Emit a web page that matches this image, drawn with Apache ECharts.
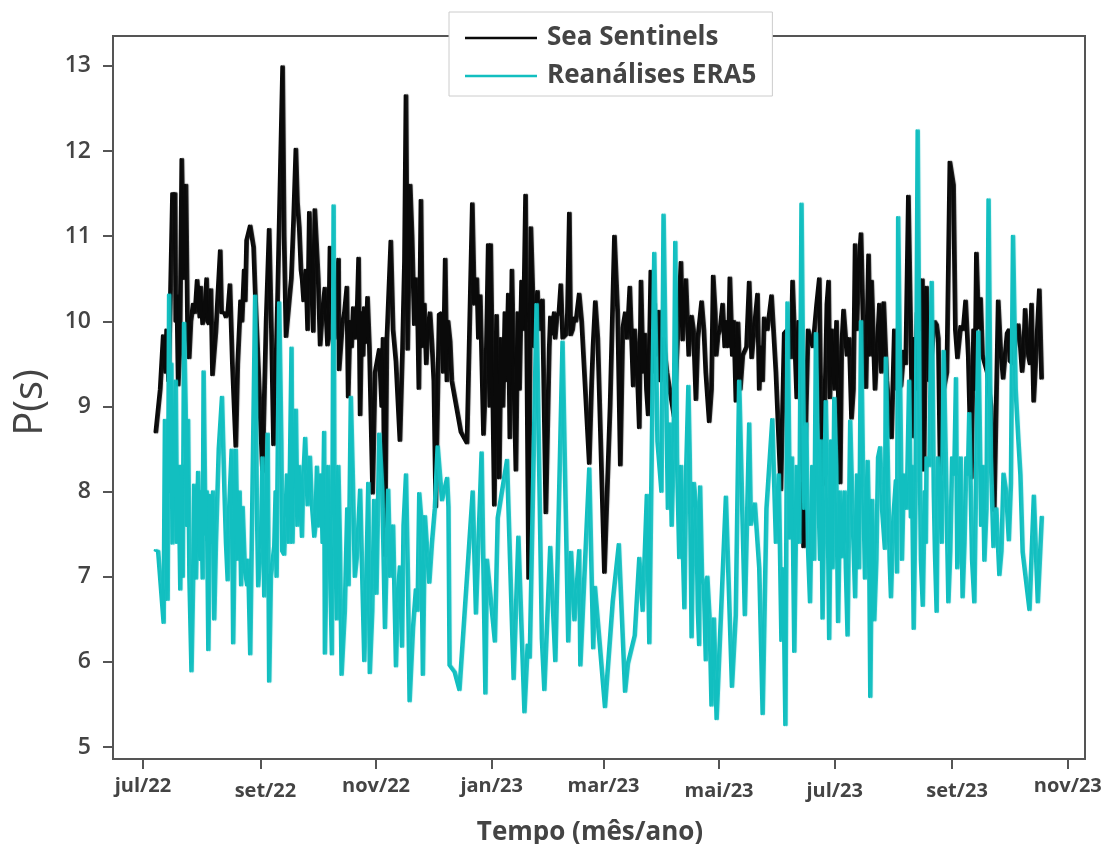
<!DOCTYPE html>
<html><head><meta charset="utf-8">
<script src="https://cdn.jsdelivr.net/npm/echarts@6/dist/echarts.min.js"></script>
<style>html,body{margin:0;padding:0;background:#fff}#c{width:1109px;height:844px}</style>
</head><body><div id="c"></div>
<script>
// x values are days since 2022-07-01
const tickDays=[0,62,123,184,243,304,365,427,488];
const tickLabels=['jul/22','set/22','nov/22','jan/23','mar/23','mai/23','jul/23','set/23','nov/23'];
const yTicks=[5,6,7,8,9,10,11,12,13];
const seaDays=[6.3,8.6,10.2,13,15.1,16.5,18.1,20,22.2,23.9,26,28.1,31,33.1,34.3,35.4,36.2,38,40.3,41,44.2,45.4,48.5,51,52.9,53.5,54.2,56.1,57.9,62.6,66.1,68.4,70.5,73.2,75,76.7,80.2,82,82.9,84.3,87.3,89.4,90.2,93,95.5,96.9,98.2,102.7,103,104.8,107.1,107.8,110.5,113.3,114.1,116.3,118,120.7,124.2,127.2,128.2,130.3,133,135.1,138.3,139.2,140.5,142.7,145.1,146.2,150,152,154,155.8,159,159.9,161.6,167.3,170.5,173.3,174.4,175.7,179.2,181.7,183,184.9,186.1,187.5,192.3,193.1,194.2,196.3,199.3,201.4,203,204.2,207.7,210.3,212.1,213.9,218,220,222.7,224.5,225.2,227,229.7,235,236.3,238.2,243,248.3,251.4,252.7,256.4,258.2,261.4,262.3,266.1,267.5,270,271.9,279.8,283.4,284.3,286,289,291.3,294.3,298.3,300.4,303,305.4,308.5,309.2,312.4,313.5,319.4,320.7,323.8,324.7,327.3,331.2,336.1,337.9,341.4,342.3,343.2,348.1,351.5,356.4,358.1,361.3,362,363,367.4,369.2,371,373.4,375.3,377,378.4,381,382.4,384,385.8,388.1,390.4,394.5,399.5,401,403.4,405.6,408,410.8,411.6,413,418.3,420.2,425.3,427.2,429.3,431,433.6,436.6,439.3,440.5,441.5,448.7,450.8,453.4,455.5,457,461.4,463.4,465,466.8,468.4,469.5,472.5,473.7];
const seaVals=[8.7,9.2,9.83,9.3,11.5,11.5,9.25,11.9,11.6,9.57,10.2,10.48,9.97,10.5,9.97,10.37,9.37,9.88,10.83,10.1,10.08,10.43,8.53,10.24,10.6,10.24,10.95,11.12,10.87,8.23,11.08,8.55,10.22,12.99,9.82,10.24,12.02,11.1,10.6,10.24,11.28,9.88,11.31,9.72,10.39,9.72,10.87,10.73,9.43,9.98,10.4,9.11,10.16,10.74,8.9,10.16,10.28,7.98,9.67,7.25,9.78,10.94,9.53,8.6,12.65,9.67,11.6,9.96,9.21,11.42,9.94,9.74,7.82,10.08,10.73,9.3,9.76,8.7,8.57,11.38,10.2,10.5,8.67,10.9,10.9,7.84,10.07,8.16,10.32,8.63,10.6,8.25,10.47,11.48,6.98,11.1,10.35,10.25,7.75,9.69,10.06,10.43,9.84,11.27,9.84,10.04,10.32,8.33,9.3,10.23,7.05,11,8.31,9.92,10.4,9.24,8.75,10.47,8.9,10.59,9.6,10.12,8.88,10.69,9.78,10.49,10.06,9.08,10.23,8.82,10.53,9.84,10.2,9.7,10.51,9.06,9.98,10.46,9.57,10.32,9.2,10.04,10.3,8.02,9.86,9.57,10.47,9.92,7.35,9.82,10.5,8.08,10.47,9.1,9.9,8.1,10.13,9.6,8.86,10.9,10.55,11.03,9.22,10.78,10.47,9.2,10.2,10.22,8.63,9.24,9.65,11.47,8.64,10.1,10.49,8.25,10.4,9.96,8.2,11.87,11.6,9.57,9.94,10.24,8.16,10.8,9.92,10.27,7.78,10.24,9.33,9.86,9.53,9.96,9.41,10.14,9.59,10.2,9.06,10.37,9.33];
const seaDaysB=[11.5,12,14,16.8,17.4,19,21,23,24.8,27,29.5,30,32,33.7,35,37,39,42.5,43.3,46.7,49.5,51.8,58.8,60.5,64.5,67.3,69.5,71.5,74,77.8,79,81,83.5,85.5,86.4,88.4,92,94.2,97.5,99.5,100.5,101.5,105.8,108.8,109.6,111.7,112.5,115,115.7,117.2,119,122,125.5,126.2,131.5,136.5,137.5,141.5,143.5,144.5,147,148,149,151,153,157,158,160.5,162.5,176.5,177.5,180.5,182.5,188.5,189.5,190.5,191.2,195,197.3,198.2,200.3,205,206,208.5,209,214.5,215.5,216.5,217,219,221,223.5,226.2,228,231,237,239.5,246,250,254,255,259,260.2,263.4,264.4,265.2,268.7,269.4,272.5,274,276,281,287.5,288.5,290,292.3,295.5,296.5,299.5,301.5,302,304,306.5,307.5,310.5,311.3,314.7,316,318,322,325.5,326.5,329,333.5,339.5,344.5,345.5,346.8,349.5,350.5,353,355,357,359.5,360.4,364.5,365.5,366.5,368.2,372.2,374.4,376.2,379.7,383.3,387,389.2,392,396,397.5,402,406.5,407.2,409.2,412.4,414.5,416,417.2,419.2,422,423.7,428.2,432.3,435,437.8,438.5,442.5,445,447,452,456.5,458.5,460,462.5,464.2,467.6,471];
const seaValsB=[9.4,9.9,10.3,10,10.3,9.7,10.5,10,10,10.1,10.05,10.4,10.05,10,10.05,9.6,10.3,10.1,10.05,9.5,9.5,10,10.3,9.4,10,9.9,9.3,10.2,11,10.5,11.2,11.4,10.5,10.6,9.9,10.5,10.5,10.1,9.8,10.1,9.8,10.2,10.1,10,9.7,9.8,10.1,10.1,9.6,9.75,9.7,9.4,9,9.8,9.9,9.7,10.7,11,10.5,10,9.7,10.2,9.5,10.1,9.3,10.1,9.4,10,9.3,9.8,10.3,9.4,9,9.8,9,10.1,9.3,9.6,10.1,9.2,9.9,10.5,9.7,9.9,10.2,10.05,9.85,10.1,9.8,10.1,9.8,10.1,9.9,10,10,9.7,9.8,9,10.1,10.1,9.8,9.9,9.5,9.4,9.85,9.2,9.4,10.2,9.3,9.8,9.4,9.5,9.6,10,9.9,9.8,9.9,9.4,9.2,10.1,9.6,9.9,9.7,10,9.6,10,9.2,9.6,9.7,9.9,9.7,9.3,9.9,9.4,9.9,9.1,10,9.2,9,9.9,9.7,10.2,9.4,9.2,10.2,9.2,10,9.1,9.7,9.8,9.2,9.9,9.8,9.6,9.7,9.4,9.3,9.9,9.2,9.5,9.8,9.2,9.9,9.8,9.3,9.7,10,9.8,9.2,9.4,9.9,9.9,9.6,9.9,9.2,9.6,9.4,9,9.7,9.9,9.5,9.8,9.7,9.6,9.5,9.7];
const eraDays=[6.3,7.5,10.4,11.1,12.5,13.3,15.1,16.8,19.2,21.2,23.3,25.1,26.5,27.5,28.6,31,31.5,34,35,37.1,39.5,41.2,44.2,46.3,47.1,48.5,52.1,53.3,55,56.1,58.7,60.3,61.8,63.5,65.3,66.1,68.8,71.4,74,77.9,79,80.2,83.4,85.1,86.4,87.6,89.9,91.3,92.5,95.1,95.5,97.3,99.2,100.1,101.8,103.5,104.3,109.2,112.4,114.1,116.3,118.4,119.2,124.2,127.2,128.9,133,135.1,136.2,138.3,140.2,143.5,145.3,147.2,148.3,150.6,155,157.3,160,160.7,161.3,164,166.5,173.5,175.2,178.2,180.2,181,185.2,186.7,191.6,195.1,197.6,200.8,202.5,203.6,207.2,210,211.3,214.4,217.1,220.9,223.9,225.4,227.2,229.7,230.3,235,237.1,238,243.3,247.4,250.6,253.9,255.4,259,261.4,263.2,265.4,266.7,269.3,271,273.1,274.2,275.5,280.4,282.5,285.2,287.3,289,290.2,293,293.5,295.5,296.5,298.5,299.5,300.8,302.2,307.1,310.3,312.3,314.1,317.1,319.4,320.3,322.4,324.7,326.5,331.6,336.4,338.5,339.6,341,343.2,347,351.5,354.6,358.1,359.8,361.6,364.3,366.3,368.5,371.3,372.7,375.3,378.4,380.5,381.9,383.3,385.4,388.5,391,391.5,394.2,396.8,397.4,398,401,406.2,408.3,411,413,415.7,418.3,420,422,424.5,426.5,428.5,430,432,434,435.5,438.2,440.3,443.5,445.7,448.3,451.4,453.6,456.4,458.6,461.4,463.7,467.3,469.6,471.7,473.8];
const eraVals=[7.31,7.3,6.46,8.84,6.73,10.31,7.39,9.3,6.85,9.98,8.84,5.89,8.08,6.98,8.23,6.98,9.41,6.14,7.96,6.5,8.5,9.11,6.96,8.49,6.22,8.49,7.82,7.08,7.2,6.09,10.3,6.89,7.41,6.77,8.68,5.77,7.36,10.22,7.26,9.69,8.1,8.96,7.47,8.63,7.84,8.41,7.47,8.29,7.59,8.7,6.1,8.3,6.09,11.36,6.5,7.3,5.85,9.11,7.24,8.02,6.01,8.1,5.87,8.68,6.4,8.02,5.95,7.12,6.18,8.2,5.54,6.85,7.98,5.85,7.71,6.93,8.53,7.9,8.16,7.82,5.96,5.88,5.67,8,6.57,8.46,5.63,7.2,6.24,7.69,8.37,5.8,7.47,5.41,6.2,6.05,10.2,6.27,5.67,7.35,6.01,9.76,6.24,7.29,6.49,7.31,5.96,8.27,6.16,6.88,5.47,6.71,7.38,5.65,5.98,6.31,7.22,6.6,7.96,6.22,10.8,8.59,8,11.25,9.31,10.93,7.22,6.63,9.24,6.29,8.1,6.2,8.06,6.9,6.02,6.51,5.49,6.51,5.33,7.94,5.71,6.55,9.3,6.55,8.8,7.61,7.86,7.1,5.39,8.85,6.25,5.26,10.22,7.45,6.12,11.38,6.7,9.86,6.51,9.06,6.27,9.1,6.47,7.23,6.31,8.83,6.76,10,6.98,8.36,5.59,6.49,8.52,7.33,9.57,6.76,8.13,7.05,11.22,8.2,6.39,12.24,6.66,8.4,10.46,6.59,8.1,9.65,6.7,8.4,9.33,7.4,6.76,8.4,8.92,6.7,9.88,7.19,11.43,7.35,7.02,8.21,7.43,11,8.62,7.29,6.61,7.95,6.7,7.7];
const eraDaysB=[13.9,14.5,16,17.5,18.3,19.8,20.5,22,22.8,24,26,27,29.8,30.3,32.5,33.2,36,36.5,38,42.5,43.3,45,49.5,50.5,51.3,54.5,59.5,62.6,64.4,67,69.5,70,72.5,73,75.5,76.5,78.4,81,82,84,88.5,90.5,93.5,94.3,96.4,98,100.5,102.6,106,107.3,108,110.3,111.3,115,117.4,120.5,121.5,122.7,125.8,130,131.5,134,137,139.3,142,144.4,146.3,149.5,152,153.5,276.5,277.5,278.5,279.5,281.3,283.5,284.3,286.2,288,291.5,292.3,294.5,297.3,328.5,333.5,335,337.4,342,344.5,345.8,348.5,349.5,350.5,352.7,353.7,355.7,356.8,357.3,360.7,362.7,363.4,365.3,367.4,369.8,370.4,374,376.3,377.4,379.4,382.6,384.3,386.5,387.4,389.5,392.8,393.5,395.5,399.5,400,402.5,403.8,404.7,405.3,407.2,409.6,410,412,412.6,414.5,416.8,417.4,419,421,423.2,425.5,427.6,429.2,431,433,434.8,437,439.2,441.8,442.7,444.6,446.9,449.8,452.5,455,457.5,460,462.5];
const eraValsB=[8,9.5,8,7.4,8.3,8.3,7,9,7.6,7,7,8,7.2,8,7.5,8,7.4,8,7.4,8,7.4,7.8,7.2,8,6.9,6.9,8,8.4,7.6,7,8,7,8.6,7.3,8.2,7.4,7.4,7.6,8.3,8.1,7.9,7.6,8.2,7.4,7.2,7.4,8.2,8.3,6.6,7.8,6.9,8.1,7,7.2,7,6.6,7.9,6.8,8,7,7.6,6.8,7.6,7,6.4,6.6,7.7,7.3,7.4,7.8,7.8,8.8,7.6,8.5,8.4,8.3,7.4,8.3,8.4,7.8,6.6,7,7,7.8,7.4,8.2,7.1,8.4,8.3,7.4,7.8,8.8,7.3,8.3,7.2,8.2,7.2,8.6,8.1,8.6,7.1,8.3,8,8,7.1,7.7,8.2,7.1,8.3,7.6,7.9,7.2,8.4,7.8,8,7.2,7.7,8.4,7.2,7.8,9.3,7.7,8.3,8,8,7.2,8,7.4,8.3,8,7.3,8.4,7.4,8.3,7.3,8.2,7.1,8.4,7.4,8.2,7.2,8.3,7.6,8.3,7.8,8.4,7.8,7.3,8,8.1,9.2,8.2];
const FRAME='#555';const TXT='#444';const FONT='"Open Sans"';
// the two lists of each series are read in separate passes; keep the combined line in time order
const toPairs=(xs,ys,xs2,ys2)=>xs.map((x,i)=>[x,ys[i]]).concat(xs2.map((x,i)=>[x,ys2[i]])).sort((a,b)=>a[0]-b[0]);
const chart=echarts.init(document.getElementById('c'),null,{renderer:'canvas'});
const lineSeries=(name,data,color,w)=>({name,type:'line',data,showSymbol:false,smooth:false,sampling:false,
  lineStyle:{color,width:w,join:'round',cap:'round',shadowColor:color,shadowBlur:1,shadowOffsetX:2,shadowOffsetY:0},
  itemStyle:{color},silent:true,animation:false});
const lblBase={fontFamily:FONT,fontWeight:700,fontSize:20,color:TXT};
const lblStyle=['a','c','a','a','a','b','b','c','a'];
chart.setOption({
  animation:false,backgroundColor:'#fff',
  grid:{left:113,right:24,top:36,bottom:85,outerBoundsMode:'none',containLabel:false,show:true,borderColor:FRAME,borderWidth:2,backgroundColor:'#fff'},
  legend:{left:449,top:12,width:324,orient:'vertical',padding:[7,16,1,16],itemGap:0,itemWidth:72,itemHeight:34,
    backgroundColor:'#fff',borderColor:'#ccc',borderWidth:1,
    icon:'path://M0 0H72V2.5H0Z',
    textStyle:{fontFamily:FONT,fontWeight:700,fontSize:26,color:TXT,lineHeight:38,padding:[0,0,0,5]},
    data:['Sea Sentinels','Reanálises ERA5']},
  xAxis:{type:'value',min:-15.8,max:497.1,
    name:'Tempo (mês/ano)',nameLocation:'middle',nameGap:61,
    nameTextStyle:{fontFamily:FONT,fontWeight:700,fontSize:26,color:TXT,padding:[0,18,0,0]},
    axisLine:{show:false,onZero:false},splitLine:{show:false},
    axisTick:{show:true,length:10,lineStyle:{color:FRAME,width:2},customValues:tickDays},
    axisLabel:{show:true,customValues:tickDays,margin:17,...lblBase,hideOverlap:false,
      rich:{a:{...lblBase},b:{...lblBase,padding:[5,0,0,0]},c:{...lblBase,padding:[5,0,0,10]}},
      formatter:v=>{const i=tickDays.indexOf(v);return '{'+lblStyle[i]+'|'+tickLabels[i]+'}';}}},
  yAxis:{type:'value',min:4.86,max:13.35,
    name:'P(s)',nameLocation:'middle',nameGap:62,nameRotate:90,
    nameTextStyle:{fontFamily:FONT,fontWeight:400,fontSize:40,color:TXT,padding:[0,10,0,0]},
    axisLine:{show:false,onZero:false},splitLine:{show:false},
    axisTick:{show:true,length:10,lineStyle:{color:FRAME,width:2},customValues:yTicks},
    axisLabel:{show:true,customValues:yTicks,margin:22,fontFamily:FONT,fontWeight:600,fontSize:23,color:TXT,hideOverlap:false,
      formatter:v=>String(v)}},
  series:[lineSeries('Sea Sentinels',toPairs(seaDays,seaVals,seaDaysB,seaValsB),'#0a0a0a',2.8),
          lineSeries('Reanálises ERA5',toPairs(eraDays,eraVals,eraDaysB,eraValsB),'#12bfc0',2.6)]
});
</script></body></html>
